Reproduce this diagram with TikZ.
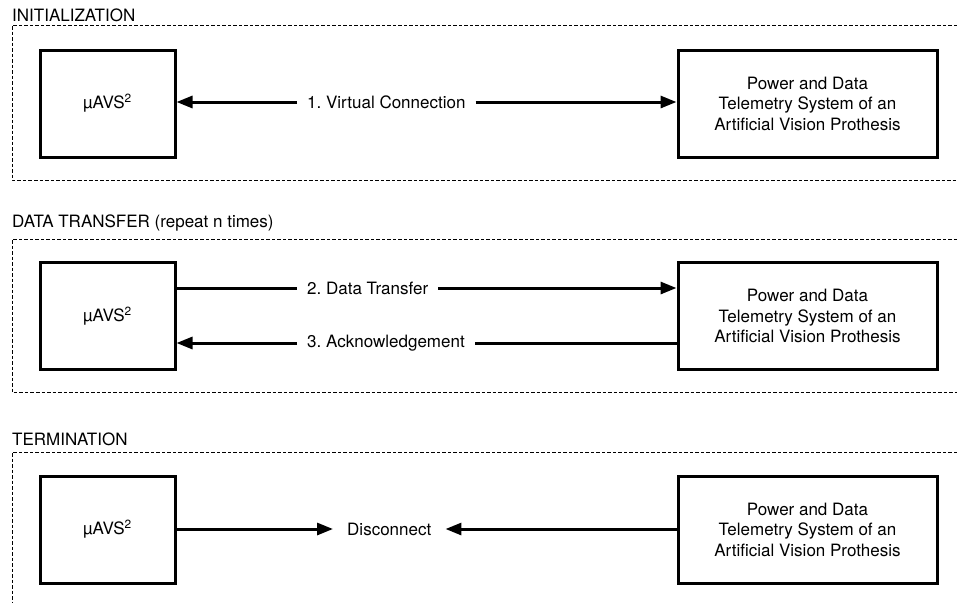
\documentclass[tikz,border=0pt]{standalone}
\usepackage{fontspec}
\setmainfont{TeX Gyre Heros}
\usetikzlibrary{arrows.meta}
\frenchspacing
\begin{document}
\begin{tikzpicture}[x=1pt,y=-1pt,
  txt/.style={font=\fontsize{17}{20.5}\selectfont},
  blk/.style={draw,line width=3pt,inner sep=0pt,txt,align=center},
  leftblk/.style={blk,minimum width=135pt,minimum height=107pt},
  rightblk/.style={blk,minimum width=259pt,minimum height=107pt},
  frame/.style={line width=1pt,dash pattern=on 3.5pt off 2pt},
  title/.style={txt,anchor=base west,inner sep=0pt},
  lab/.style={txt,anchor=west,inner sep=10pt},
  arr/.style={line width=3pt,-{Triangle[length=16pt,width=12pt]}},
  ln/.style={line width=3pt}]
\useasboundingbox (0,0) rectangle (957,603);
% frames
\draw[frame] (957,25) -| (12,180) -- (957,180);
\draw[frame] (957,239) -| (12,392) -- (957,392);
\draw[frame] (957,452) -| (12,603);
% titles
\node[title] (t1) at (12,21) {INITIALIZATION};
\node[title] (t2) at (12,227) {DATA TRANSFER (repeat n times)};
\node[title] (t3) at (12,445) {TERMINATION};
% section 1
\node[leftblk] (a1) at (107.5,103.5) {µAVS\textsuperscript{2}};
\node[rightblk] (b1) at (807.5,103.5) {Power and Data\\Telemetry System of an\\Artificial Vision Prothesis};
\node[lab] (l1) at (297,102) {1. Virtual Connection};
\draw[arr] (l1.west) -- (l1.west -| a1.east);
\draw[arr] (l1.east) -- (l1.east -| b1.west);
% section 2
\node[leftblk] (a2) at (107.5,316) {µAVS\textsuperscript{2}};
\node[rightblk] (b2) at (807.5,316) {Power and Data\\Telemetry System of an\\Artificial Vision Prothesis};
\node[lab] (l2) at (297,288) {2. Data Transfer};
\node[lab] (l3) at (297,343) {3. Acknowledgement};
\draw[ln] (l2.west -| a2.east) -- (l2.west);
\draw[arr] (l2.east) -- (l2.east -| b2.west);
\draw[ln] (l3.east -| b2.west) -- (l3.east);
\draw[arr] (l3.west) -- (l3.west -| a2.east);
% section 3
\node[leftblk] (a3) at (107.5,529.5) {µAVS\textsuperscript{2}};
\node[rightblk] (b3) at (807.5,529.5) {Power and Data\\Telemetry System of an\\Artificial Vision Prothesis};
\node[txt,anchor=west,inner sep=14pt] (d) at (333,529) {Disconnect};
\draw[arr] (d.west -| a3.east) -- (d.west);
\draw[arr] (d.east -| b3.west) -- (d.east);
\end{tikzpicture}
\end{document}
